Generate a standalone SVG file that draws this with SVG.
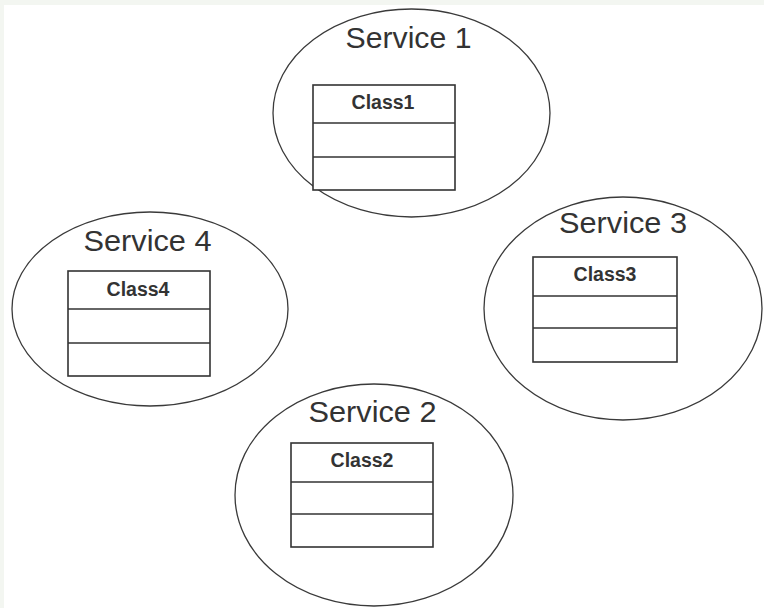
<svg xmlns="http://www.w3.org/2000/svg" width="764" height="608" viewBox="0 0 764 608">
  <style>
    .svc { fill: #ffffff; stroke: #3a3a3a; stroke-width: 1.3; }
    .box { fill: #ffffff; stroke: #333333; stroke-width: 1.6; }
    .sep { stroke: #333333; stroke-width: 1.6; }
    .svc-label { font-family: "Liberation Sans", Arial, sans-serif; font-size: 29.5px; fill: #333333; text-anchor: middle; }
    .cls-label { font-family: "Liberation Sans", Arial, sans-serif; font-size: 19.5px; font-weight: bold; fill: #333333; text-anchor: middle; }
  </style>
  <!-- page -->
  <rect x="0" y="0" width="764" height="608" fill="#f3f6f1"/>
  <rect x="4" y="5" width="760" height="603" fill="#ffffff"/>

  <g id="service1">
    <ellipse class="svc" cx="411.5" cy="113" rx="138.5" ry="104"/>
    <text class="svc-label" x="408.5" y="48" textLength="126" lengthAdjust="spacingAndGlyphs">Service 1</text>
    <g id="class1">
      <rect class="box" x="313" y="85" width="142" height="105"/>
      <line class="sep" x1="313" y1="123" x2="455" y2="123"/>
      <line class="sep" x1="313" y1="157" x2="455" y2="157"/>
      <text class="cls-label" x="383" y="109">Class1</text>
    </g>
  </g>

  <g id="service4">
    <ellipse class="svc" cx="150" cy="309" rx="138" ry="97"/>
    <text class="svc-label" x="147.5" y="251" textLength="128" lengthAdjust="spacingAndGlyphs">Service 4</text>
    <g id="class4">
      <rect class="box" x="68" y="271" width="142" height="105"/>
      <line class="sep" x1="68" y1="309" x2="210" y2="309"/>
      <line class="sep" x1="68" y1="343" x2="210" y2="343"/>
      <text class="cls-label" x="138" y="296">Class4</text>
    </g>
  </g>

  <g id="service3">
    <ellipse class="svc" cx="623" cy="308.5" rx="139" ry="111.5"/>
    <text class="svc-label" x="623" y="233" textLength="128" lengthAdjust="spacingAndGlyphs">Service 3</text>
    <g id="class3">
      <rect class="box" x="533" y="257" width="144" height="105"/>
      <line class="sep" x1="533" y1="296" x2="677" y2="296"/>
      <line class="sep" x1="533" y1="328" x2="677" y2="328"/>
      <text class="cls-label" x="605" y="281">Class3</text>
    </g>
  </g>

  <g id="service2">
    <ellipse class="svc" cx="374" cy="495" rx="139" ry="111"/>
    <text class="svc-label" x="372.5" y="422" textLength="128" lengthAdjust="spacingAndGlyphs">Service 2</text>
    <g id="class2">
      <rect class="box" x="291" y="443" width="142" height="104"/>
      <line class="sep" x1="291" y1="482" x2="433" y2="482"/>
      <line class="sep" x1="291" y1="514" x2="433" y2="514"/>
      <text class="cls-label" x="362" y="467">Class2</text>
    </g>
  </g>

  <!-- no connectors between services -->
  <g id="connectors"/>
</svg>
